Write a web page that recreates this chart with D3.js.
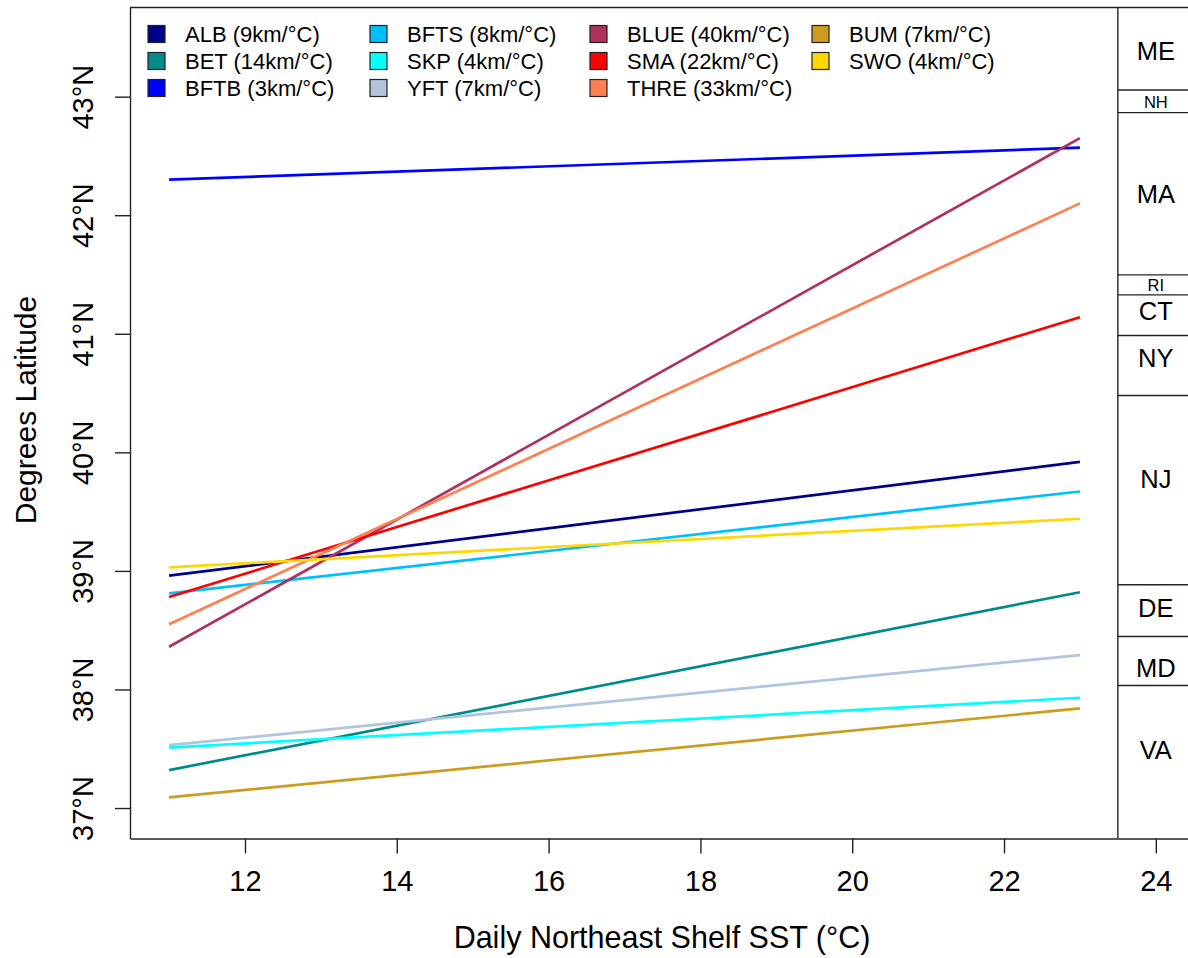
<!DOCTYPE html>
<meta charset="utf-8">
<style>
body { margin: 0; background: #fff; }
text { font-family: "Liberation Sans", Arial, sans-serif; fill: #000; }
.axis path, .axis line { stroke: #222; stroke-width: 1.4px; }
.axis text { font-size: 29px; }
.fit { fill: none; stroke-width: 2.7px; }
.state line { stroke: #222; stroke-width: 1.4px; }
</style>
<body>
<script src="https://d3js.org/d3.v7.min.js"></script>
<script>

// species fits: latitude at 11 and 23 degC
var species  = ["ALB", "BET", "BFTB", "BFTS", "SKP", "YFT", "BLUE", "SMA", "THRE", "BUM", "SWO"];
var kmPerC   = [9, 14, 3, 8, 4, 7, 40, 22, 33, 7, 4];
var colors   = ["#00008B", "#008B8B", "#0000FF", "#00BFFF", "#00FFFF", "#B0C4DE",
                "#B03060", "#FF0000", "#FF7F50", "#CD9B1D", "#FFD700"];
var sstStart = 11, sstEnd = 23;
var latStart = [38.96, 37.32, 42.30, 38.81, 37.51, 37.53, 38.36, 38.78, 38.55, 37.09, 39.03];
var latEnd   = [39.92, 38.82, 42.57, 39.67, 37.93, 38.29, 42.65, 41.14, 42.10, 37.84, 39.44];

// state boundaries and label positions (latitude)
var stateBreaks = [43.056, 42.865, 41.497, 41.328, 40.985, 40.479, 38.883, 38.447, 38.034];
var stateNames  = ["ME", "NH", "MA", "RI", "CT", "NY", "NJ", "DE", "MD", "VA"];
var stateLabLat = [43.39, 42.955, 42.18, 41.41, 41.19, 40.80, 39.78, 38.69, 38.18, 37.49];
var smallStates = ["NH", "RI"];

var xTicks = [12, 14, 16, 18, 20, 22, 24];
var yTicks = [37, 38, 39, 40, 41, 42, 43];
var divider = 23.5;

var W = 1188, H = 958;
var pl = 130, pr = 1188, pt = 7.5, pb = 838.5;

var x = d3.scaleLinear().domain([10.485, 24.424]).range([pl, pr]);
var y = d3.scaleLinear().domain([36.743, 43.752]).range([pb, pt]);

var svg = d3.select("body").append("svg")
    .attr("width", W)
    .attr("height", H);

// fitted lines
var rows = species.map(function(s, i) {
  return { name: s, color: colors[i],
           pts: [[sstStart, latStart[i]], [sstEnd, latEnd[i]]] };
});

var line = d3.line()
    .x(function(d) { return x(d[0]); })
    .y(function(d) { return y(d[1]); });

svg.selectAll(".fit")
    .data(rows)
  .enter().append("path")
    .attr("class", "fit")
    .style("stroke", function(d) { return d.color; })
    .attr("d", function(d) { return line(d.pts); });

// x axis
var xa = svg.append("g")
    .attr("class", "axis")
    .attr("transform", "translate(0," + pb + ")")
    .call(d3.axisBottom(x).tickValues(xTicks).tickSize(15).tickSizeOuter(0));
xa.selectAll("text").attr("dy", null).attr("y", 52);

// y axis
var ya = svg.append("g")
    .attr("class", "axis")
    .attr("transform", "translate(" + pl + ",0)")
    .call(d3.axisLeft(y).tickValues(yTicks).tickSize(15).tickSizeOuter(0)
      .tickFormat(function(d) { return d + "°N"; }));
ya.selectAll("text")
    .attr("x", null).attr("dy", null)
    .attr("text-anchor", "middle")
    .attr("transform", "translate(-37,0) rotate(-90)");

// top border
svg.append("line")
    .attr("x1", pl).attr("x2", pr)
    .attr("y1", pt).attr("y2", pt)
    .style("stroke", "#222").style("stroke-width", 1.4);

// state strip
var st = svg.append("g").attr("class", "state");
st.append("line")
    .attr("x1", x(divider)).attr("x2", x(divider))
    .attr("y1", pt).attr("y2", pb);
st.selectAll(".brk")
    .data(stateBreaks)
  .enter().append("line")
    .attr("x1", x(divider)).attr("x2", pr)
    .attr("y1", function(d) { return y(d); })
    .attr("y2", function(d) { return y(d); });
st.selectAll(".slab")
    .data(stateNames)
  .enter().append("text")
    .attr("x", x(24))
    .attr("y", function(d, i) { return y(stateLabLat[i]); })
    .attr("dy", "0.36em")
    .attr("text-anchor", "middle")
    .style("font-size", function(d) { return smallStates.indexOf(d) >= 0 ? "16.5px" : "25.5px"; })
    .text(function(d) { return d; });

// legend, filled by column
var legRows = 3;
var colX = [148, 370, 590, 812];
var leg = svg.selectAll(".leg")
    .data(rows)
  .enter().append("g")
    .attr("transform", function(d, i) {
      return "translate(" + colX[Math.floor(i / legRows)] + "," + (34 + 27 * (i % legRows)) + ")";
    });
leg.append("rect")
    .attr("x", 0).attr("y", -8.5)
    .attr("width", 17).attr("height", 17)
    .style("fill", function(d) { return d.color; })
    .style("stroke", "#222").style("stroke-width", 1.2);
leg.append("text")
    .attr("x", 37)
    .attr("dy", "0.36em")
    .style("font-size", "22px")
    .text(function(d, i) { return d.name + " (" + kmPerC[i] + "km/°C)"; });

// axis titles
svg.append("text")
    .attr("x", 662).attr("y", 948)
    .attr("text-anchor", "middle")
    .style("font-size", "30.5px")
    .text("Daily Northeast Shelf SST (°C)");

svg.append("text")
    .attr("transform", "translate(36,410) rotate(-90)")
    .attr("text-anchor", "middle")
    .style("font-size", "30px")
    .text("Degrees Latitude");

</script>
</body>
